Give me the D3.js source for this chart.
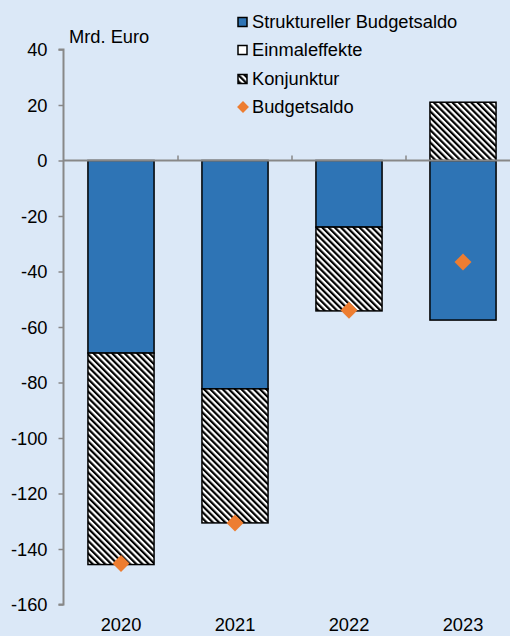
<!DOCTYPE html>
<html>
<head>
<meta charset="utf-8">
<script src="https://cdn.jsdelivr.net/npm/d3@7"></script>
<style>
  html, body { margin: 0; padding: 0; background: #dbe8f7; }
  svg { display: block; font-family: "Liberation Sans", Arial, sans-serif; }
</style>
</head>
<body>
<svg id="chart" width="510" height="636"></svg>
<script>
const years = ["2020", "2021", "2022", "2023"];
const strukturell = [-69.4, -82.3, -24.0, -57.5];
const einmaleffekte = [0, 0, 0, 0];
const konjunktur = [-76.2, -48.3, -30.2, 21.0];
const budgetsaldo = [-145.2, -130.6, -54.0, -36.6];
const yTicks = [40, 20, 0, -20, -40, -60, -80, -100, -120, -140, -160];
const seriesNames = ["Struktureller Budgetsaldo", "Einmaleffekte", "Konjunktur", "Budgetsaldo"];
const unitLabel = "Mrd. Euro";

const svg = d3.select("#chart");
const blue = "#2e74b5";
const orange = "#ed7d31";
const FS = 18.3;

const defs = svg.append("defs");
const pat = defs.append("pattern")
  .attr("id", "hatch")
  .attr("patternUnits", "userSpaceOnUse")
  .attr("width", 4.4).attr("height", 4.4)
  .attr("patternTransform", "rotate(-45)");
pat.append("rect").attr("width", 4.4).attr("height", 4.4).attr("fill", "#fff");
pat.append("rect").attr("width", 2.2).attr("height", 4.4).attr("fill", "#000");

const y = d3.scaleLinear().domain([-160, 40]).range([604.5, 49.5]);
const x = d3.scaleBand().domain(years).range([64, 520]).paddingInner(0.42).paddingOuter(0.21);

const table = years.map((yr, i) => ({
  year: yr,
  s: strukturell[i],
  e: einmaleffekte[i],
  k: konjunktur[i]
}));
const stack = d3.stack().keys(["s", "e", "k"]).offset(d3.stackOffsetDiverging);
const layers = stack(table);
const fills = { s: blue, e: "#fff", k: "url(#hatch)" };

layers.forEach(layer => {
  svg.append("g").selectAll("rect")
    .data(layer.filter(d => d[1] - d[0] !== 0))
    .join("rect")
    .attr("x", d => x(d.data.year))
    .attr("width", x.bandwidth())
    .attr("y", d => y(Math.max(d[0], d[1])))
    .attr("height", d => Math.abs(y(d[0]) - y(d[1])))
    .attr("fill", fills[layer.key])
    .attr("stroke", "#000")
    .attr("stroke-width", 1.5);
});

// zero line
svg.append("line")
  .attr("x1", 63).attr("x2", 520)
  .attr("y1", y(0)).attr("y2", y(0))
  .attr("stroke", "#888").attr("stroke-width", 2);

// x ticks at category boundaries (pointing up)
const step = x.step();
years.slice(1).forEach(yr => {
  const bx = x(yr) - (step - x.bandwidth()) / 2;
  svg.append("line")
    .attr("x1", bx).attr("x2", bx)
    .attr("y1", y(0)).attr("y2", y(0) - 5)
    .attr("stroke", "#888").attr("stroke-width", 1.5);
});

// y axis
const yAxis = d3.axisLeft(y).tickValues(yTicks).tickSize(5).tickPadding(11).tickFormat(d => String(d));
const gy = svg.append("g").attr("transform", "translate(63.5,0)").call(yAxis);
gy.select(".domain").attr("stroke", "#888").attr("stroke-width", 2).attr("d", `M-5,${y(40)}H0V${y(-160)}H-5`);
gy.selectAll(".tick line").attr("stroke", "#888").attr("stroke-width", 1.5);
gy.selectAll(".tick text").attr("font-size", FS).attr("fill", "#000").attr("font-family", "Liberation Sans, Arial, sans-serif").attr("dy", "0.35em");

// x labels
svg.append("g").selectAll("text")
  .data(years).join("text")
  .attr("x", d => x(d) + x.bandwidth() / 2)
  .attr("y", 631)
  .attr("text-anchor", "middle")
  .attr("font-size", FS)
  .text(d => d);

// diamonds
svg.append("g").selectAll("path")
  .data(years.map((yr, i) => ({ year: yr, v: budgetsaldo[i] })))
  .join("path")
  .attr("transform", d => `translate(${x(d.year) + x.bandwidth() / 2},${y(d.v)}) rotate(45)`)
  .attr("d", "M-6,-6H6V6H-6Z")
  .attr("fill", orange);

// unit label
svg.append("text").attr("x", 69).attr("y", 43).attr("font-size", FS).text(unitLabel);

// legend
const legRows = [22, 50, 79, 107];
const lg = svg.append("g");
seriesNames.forEach((name, i) => {
  const cy = legRows[i];
  if (i < 3) {
    lg.append("rect")
      .attr("x", 238).attr("y", cy - 4.5).attr("width", 9).attr("height", 9)
      .attr("fill", i === 0 ? blue : i === 1 ? "#fff" : "url(#hatch)")
      .attr("stroke", "#000").attr("stroke-width", 1.5);
  } else {
    lg.append("path")
      .attr("transform", `translate(243,${cy}) rotate(45)`)
      .attr("d", "M-4.2,-4.2H4.2V4.2H-4.2Z")
      .attr("fill", orange);
  }
  lg.append("text").attr("x", 252).attr("y", cy).attr("dy", "0.35em")
    .attr("font-size", FS).text(name);
});
</script>
</body>
</html>
